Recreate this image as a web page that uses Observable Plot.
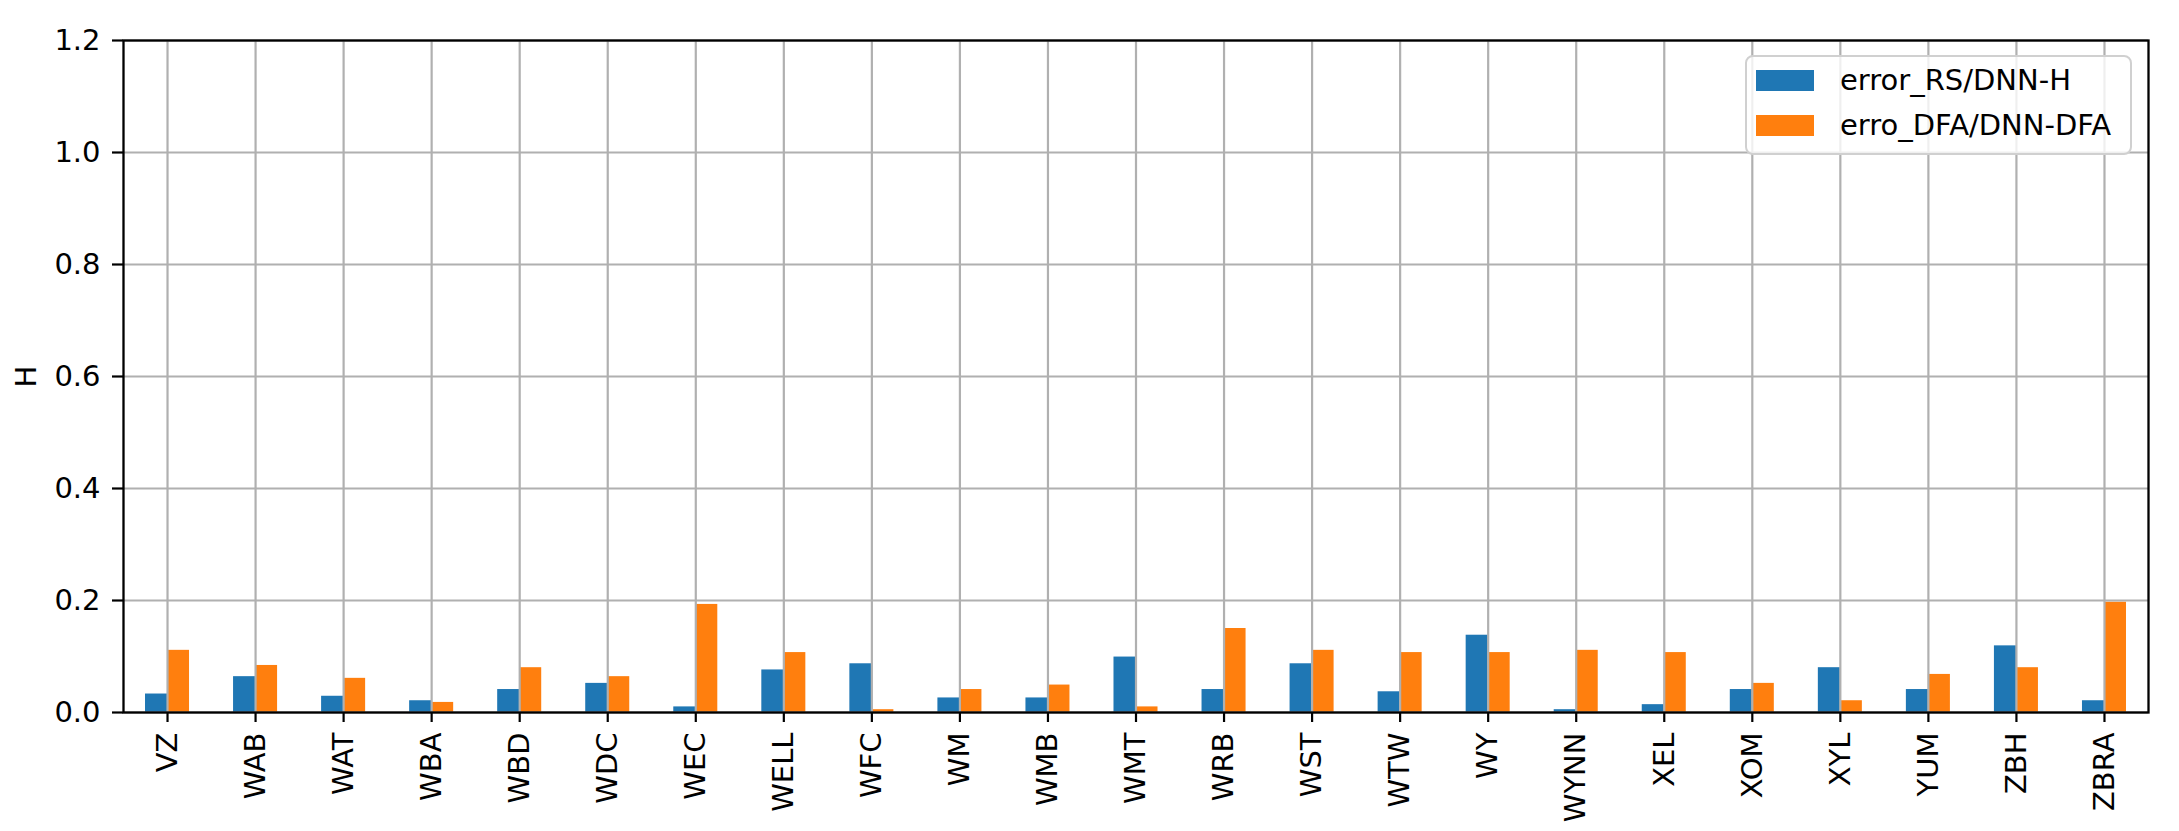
<!DOCTYPE html>
<html><head><meta charset="utf-8">
<script src="https://cdn.jsdelivr.net/npm/d3@7"></script>
<script src="https://cdn.jsdelivr.net/npm/@observablehq/plot@0.6"></script>
<style>
html,body{margin:0;padding:0;background:#fff;overflow:hidden}
#wrap{position:relative;width:2179px;height:831px;overflow:hidden}
.legend{position:absolute;left:1745px;top:55px;width:383px;height:96px;border:2px solid #d0d0d0;border-radius:8px;background:rgba(255,255,255,0.8);font-family:"DejaVu Sans";font-size:29px;color:#000}
.item{position:absolute;left:9px;display:flex;align-items:center;line-height:29px;white-space:nowrap}
.sw{width:58px;height:21px;margin-right:26px}
</style></head>
<body><div id="wrap"></div>
<script>
const tickers = ["VZ","WAB","WAT","WBA","WBD","WDC","WEC","WELL","WFC","WM","WMB","WMT","WRB","WST","WTW","WY","WYNN","XEL","XOM","XYL","YUM","ZBH","ZBRA"];
const errorRS = [0.033,0.064,0.029,0.021,0.041,0.052,0.010,0.076,0.087,0.026,0.026,0.099,0.041,0.087,0.037,0.138,0.005,0.014,0.041,0.080,0.041,0.119,0.021];
const erroDFA = [0.111,0.084,0.061,0.018,0.080,0.064,0.193,0.107,0.005,0.041,0.049,0.010,0.150,0.111,0.107,0.107,0.111,0.107,0.052,0.021,0.068,0.080,0.197];
const seriesNames = ["error_RS/DNN-H","erro_DFA/DNN-DFA"];
const seriesColors = ["#1f77b4","#ff7f0e"];
const yTicks = [0,0.2,0.4,0.6,0.8,1.0,1.2];
const yLabel = "H";

const data = tickers.flatMap((t,i)=>[
  {t, x1:i-0.25, x2:i, v:errorRS[i], s:seriesNames[0]},
  {t, x1:i, x2:i+0.25, v:erroDFA[i], s:seriesNames[1]}
]);
const idx = tickers.map((_,i)=>i);

const chart = Plot.plot({
  width:2179, height:831,
  marginLeft:123, marginRight:31, marginTop:40, marginBottom:119,
  style:{fontFamily:"DejaVu Sans", fontSize:"29px", color:"black", background:"white", overflow:"hidden"},
  x:{type:"linear", domain:[-0.5, tickers.length-0.5]},
  y:{domain:[0,1.2]},
  color:{domain:seriesNames, range:seriesColors},
  marks:[
    Plot.rectY(data,{x1:"x1", x2:"x2", y:"v", fill:"s"}),
    Plot.gridX(idx,{stroke:"#b0b0b0", strokeOpacity:1, strokeWidth:2.2}),
    Plot.gridY(yTicks,{stroke:"#b0b0b0", strokeOpacity:1, strokeWidth:2.2}),
    Plot.axisX(idx,{tickFormat:i=>tickers[i], tickRotate:-90, tickSize:10, tickPadding:10, strokeWidth:2.2, label:null, fontSize:29}),
    Plot.axisY(yTicks,{tickFormat:d3.format(".1f"), tickSize:11, tickPadding:12, strokeWidth:2.2, fontSize:29, label:yLabel, labelAnchor:"center", labelArrow:"none", labelOffset:108}),
    Plot.frame({stroke:"black", strokeWidth:2.3})
  ]
});
const wrap = document.getElementById("wrap");
wrap.appendChild(chart);

const legend = document.createElement("div");
legend.className = "legend";
seriesNames.forEach((name,k)=>{
  const it = document.createElement("div");
  it.className = "item";
  it.style.top = (k===0 ? 8.5 : 54.3) + "px";
  const sw = document.createElement("span");
  sw.className = "sw";
  sw.style.background = seriesColors[k];
  const tx = document.createElement("span");
  tx.textContent = name;
  it.appendChild(sw); it.appendChild(tx);
  legend.appendChild(it);
});
wrap.appendChild(legend);
</script>
</body></html>
